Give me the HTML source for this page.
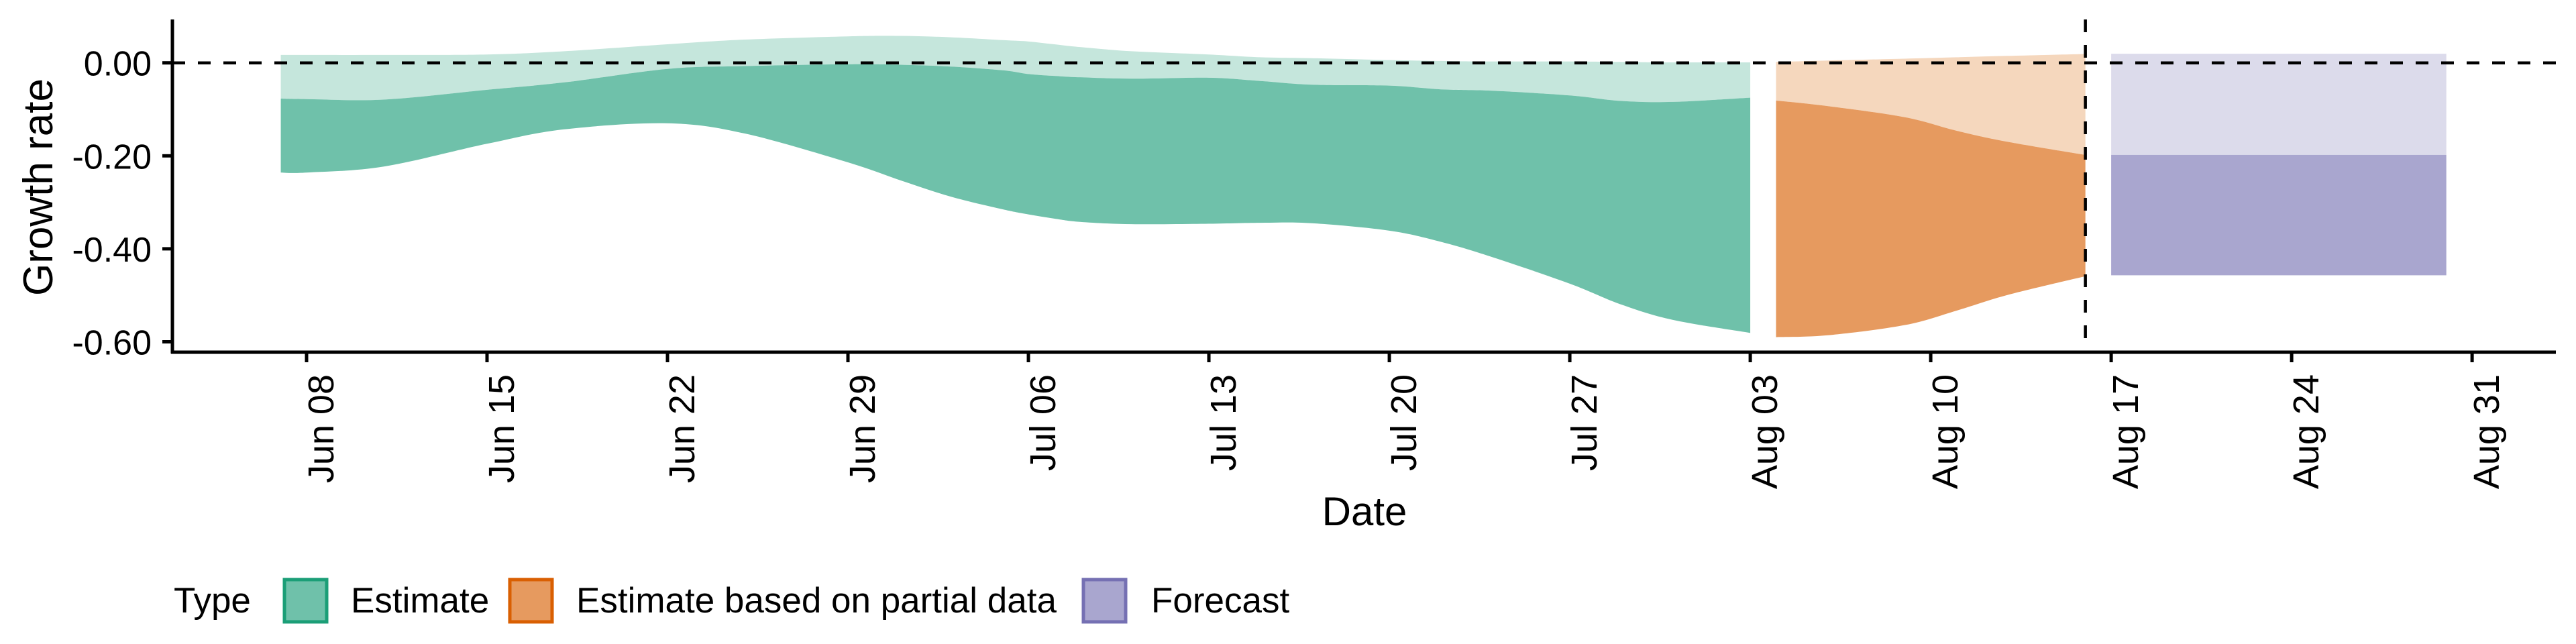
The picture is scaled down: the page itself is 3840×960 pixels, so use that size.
<!DOCTYPE html>
<html><head><meta charset="utf-8"><style>
html,body{margin:0;padding:0;background:#fff;}
svg{display:block;font-family:"Liberation Sans",Arial,sans-serif;}
</style></head><body>
<svg id="chart" width="3840" height="960" viewBox="0 0 3840 960" xmlns="http://www.w3.org/2000/svg">
<g id="bands"></g>
<g id="refs"></g>
<g id="axes"></g>
<text transform="translate(78,279) rotate(-90)" text-anchor="middle" font-size="62">Growth rate</text>
<text x="2034" y="783" text-anchor="middle" font-size="60">Date</text>
<g font-size="53">
<text x="259" y="913">Type</text>
<rect x="424" y="864" width="63" height="63" fill="#6fc1aa" stroke="#1b9e77" stroke-width="5"/>
<text x="523" y="913">Estimate</text>
<rect x="760" y="864" width="63" height="63" fill="#e69a5f" stroke="#d95f02" stroke-width="5"/>
<text x="859" y="913">Estimate based on partial data</text>
<rect x="1615" y="864" width="63" height="63" fill="#a9a6cf" stroke="#7570b3" stroke-width="5"/>
<text x="1716" y="913">Forecast</text>
</g>
</svg>
<script>
// days offset from Jun 08
const estDays   = [-1, 0, 3, 7, 10, 14, 17, 21, 23, 25, 27, 28, 29, 30, 32, 35, 37, 39, 42, 44, 46, 49, 51, 53, 56];
const estUpper90= [0.017,0.017,0.017,0.018,0.025,0.04,0.05,0.057,0.058,0.055,0.049,0.046,0.04,0.034,0.025,0.018,0.012,0.01,0.006,0.004,0.003,0.003,0.002,0.001,0.001];
const estUpper50= [-0.077,-0.078,-0.079,-0.058,-0.042,-0.013,-0.007,-0.003,-0.004,-0.008,-0.016,-0.024,-0.028,-0.031,-0.034,-0.032,-0.039,-0.047,-0.049,-0.057,-0.060,-0.070,-0.082,-0.084,-0.075];
const estLower  = [-0.236,-0.236,-0.223,-0.174,-0.143,-0.130,-0.152,-0.214,-0.252,-0.288,-0.315,-0.326,-0.335,-0.342,-0.347,-0.346,-0.344,-0.345,-0.361,-0.385,-0.418,-0.475,-0.52,-0.553,-0.581];
const partDays   = [57, 59, 62, 64, 66, 69];
const partUpper90= [0.002,0.005,0.009,0.012,0.015,0.019];
const partUpper50= [-0.081,-0.093,-0.117,-0.146,-0.170,-0.198];
const partLower  = [-0.590,-0.586,-0.564,-0.533,-0.499,-0.459];
const fcDays   = [70, 83];
const fcUpper90= [0.0195, 0.0195];
const fcUpper50= [-0.198, -0.198];
const fcLower  = [-0.457, -0.457];
const xTickLabels = ["Jun 08","Jun 15","Jun 22","Jun 29","Jul 06","Jul 13","Jul 20","Jul 27","Aug 03","Aug 10","Aug 17","Aug 24","Aug 31"];
const xTickDays   = [0,7,14,21,28,35,42,49,56,63,70,77,84];
const yTickValues = [0, -0.2, -0.4, -0.6];
const yTickLabels = ["0.00","-0.20","-0.40","-0.60"];
const cutoffDay = 69;

const NS="http://www.w3.org/2000/svg";
const X = d => 457 + 38.43*d;
const Y = v => 93.7 - 693*v;
function mk(tag, attrs, parent){const e=document.createElementNS(NS,tag);for(const k in attrs)e.setAttribute(k,attrs[k]);parent.appendChild(e);return e;}
function smooth(pts){
  let s="";
  for(let i=0;i<pts.length-1;i++){
    const p0=pts[Math.max(0,i-1)],p1=pts[i],p2=pts[i+1],p3=pts[Math.min(pts.length-1,i+2)];
    const c1=[p1[0]+(p2[0]-p0[0])/6,p1[1]+(p2[1]-p0[1])/6];
    const c2=[p2[0]-(p3[0]-p1[0])/6,p2[1]-(p3[1]-p1[1])/6];
    s+=` C${c1[0]},${c1[1]} ${c2[0]},${c2[1]} ${p2[0]},${p2[1]}`;
  }
  return s;
}
function band(days, top, bot, fill, name){
  const t=days.map((d,i)=>[X(d),Y(top[i])]);
  const b=days.map((d,i)=>[X(d),Y(bot[i])]).reverse();
  const d=`M${t[0][0]},${t[0][1]}`+smooth(t)+` L${b[0][0]},${b[0][1]}`+smooth(b)+"Z";
  const p=mk("path",{d:d,fill:fill},document.getElementById("bands"));
  
  
}
band(estDays, estUpper90, estUpper50, "#c5e6dc", "estimate-band-90");
band(estDays, estUpper50, estLower, "#6fc1aa", "estimate-band-50");
band(partDays, partUpper90, partUpper50, "#f5d7bd", "partial-band-90");
band(partDays, partUpper50, partLower, "#e69a5f", "partial-band-50");
band(fcDays, fcUpper90, fcUpper50, "#dcdbeb", "forecast-band-90");
band(fcDays, fcUpper50, fcLower, "#a9a6cf", "forecast-band-50");

const refs=document.getElementById("refs");
const h=mk("line",{x1:257,x2:3810,y1:Y(0),y2:Y(0),stroke:"#000","stroke-width":4.5,"stroke-dasharray":"19 19"},refs);


const v=mk("line",{x1:X(cutoffDay),x2:X(cutoffDay),y1:29,y2:525,"stroke":"#000","stroke-width":4.5,"stroke-dasharray":"19 19"},refs);



const ax=document.getElementById("axes");
const ya=mk("line",{x1:257,x2:257,y1:29,y2:527,stroke:"#000","stroke-width":5},ax);


const xa=mk("line",{x1:255,x2:3810,y1:525,y2:525,stroke:"#000","stroke-width":5},ax);


yTickValues.forEach((val,i)=>{
  const t=mk("line",{x1:242,x2:257,y1:Y(val),y2:Y(val),stroke:"#000","stroke-width":5},ax);
  
  
  const l=mk("text",{x:226,y:Y(val)+19,"text-anchor":"end","font-size":52},ax);
  l.textContent=yTickLabels[i];
  
  
});
xTickDays.forEach((d,i)=>{
  const t=mk("line",{x1:X(d),x2:X(d),y1:525,y2:540,stroke:"#000","stroke-width":5},ax);
  
  
  const l=mk("text",{transform:`translate(${X(d)+40},558) rotate(-90)`,"text-anchor":"end","font-size":54},ax);
  l.textContent=xTickLabels[i];
  
  
});
</script>
</body></html>
